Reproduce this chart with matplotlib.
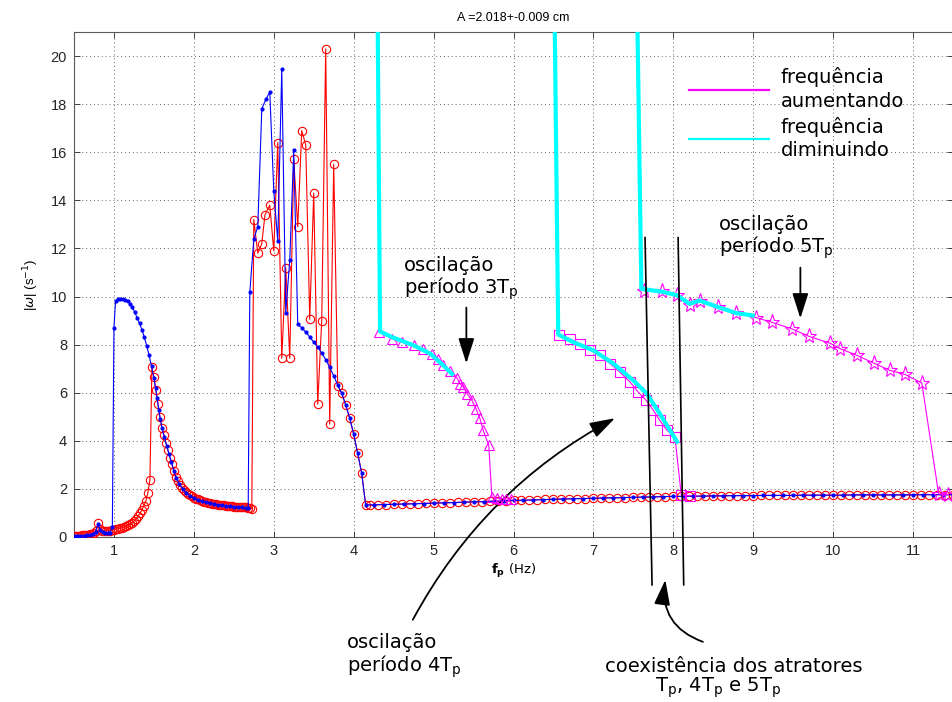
import matplotlib
matplotlib.use('Agg')
import matplotlib.pyplot as plt
from matplotlib.lines import Line2D

# sweep measured with small dots (blue), 0.5 - 4.15 Hz
blue_f = [0.50, 0.54, 0.58, 0.62, 0.66, 0.70, 0.74, 0.77, 0.80, 0.83, 0.86, 0.89, 0.92, 0.95, 0.98,
          1.00, 1.02, 1.05, 1.08, 1.11, 1.14, 1.17, 1.20, 1.23, 1.26, 1.29, 1.32, 1.35, 1.38, 1.41,
          1.44, 1.47, 1.50, 1.52, 1.54, 1.56, 1.58, 1.60, 1.63, 1.66, 1.69, 1.72, 1.75, 1.78, 1.82,
          1.86, 1.90, 1.95, 2.00, 2.05, 2.10, 2.15, 2.20, 2.25, 2.30, 2.35, 2.40, 2.45, 2.50, 2.55,
          2.60, 2.65, 2.68, 2.70, 2.75, 2.80, 2.85, 2.90, 2.95, 3.00, 3.05, 3.10, 3.15, 3.20, 3.25,
          3.30, 3.35, 3.40, 3.45, 3.50, 3.55, 3.60, 3.65, 3.70, 3.75, 3.80, 3.85, 3.90, 3.95, 4.00,
          4.05, 4.10, 4.15]
blue_w = [0.03, 0.04, 0.05, 0.06, 0.08, 0.10, 0.14, 0.22, 0.52, 0.30, 0.20, 0.17, 0.17, 0.18, 0.42,
          8.70, 9.82, 9.90, 9.90, 9.89, 9.86, 9.80, 9.70, 9.55, 9.35, 9.12, 8.88, 8.62, 8.30, 7.95,
          7.55, 7.10, 6.62, 6.20, 5.78, 5.30, 4.90, 4.55, 4.15, 3.80, 3.45, 3.10, 2.75, 2.45, 2.20,
          2.00, 1.85, 1.70, 1.62, 1.55, 1.49, 1.44, 1.40, 1.37, 1.34, 1.31, 1.29, 1.27, 1.25, 1.24,
          1.23, 1.22, 1.22, 10.17, 12.40, 12.90, 17.80, 18.20, 18.50, 14.40, 12.30, 19.45, 9.33, 11.50, 16.10,
          8.85, 8.70, 8.52, 8.32, 8.10, 7.90, 7.65, 7.38, 7.05, 6.70, 6.32, 5.98, 5.50, 4.95, 4.28,
          3.48, 2.65, 1.33]
# blue, period Tp branch above 4.2 Hz
blue_base_f = [4.25, 4.375, 4.5, 4.625, 4.75, 4.875, 5.0, 5.125, 5.25, 5.375, 5.5, 5.625, 5.75, 5.875,
               6.0, 6.125, 6.25, 6.375, 6.5, 6.625, 6.75, 6.875, 7.0, 7.125, 7.25, 7.375, 7.5, 7.625,
               7.75, 7.875, 8.0, 8.125, 8.25, 8.375, 8.5, 8.625, 8.75, 8.875, 9.0, 9.125, 9.25, 9.375,
               9.5, 9.625, 9.75, 9.875, 10.0, 10.125, 10.25, 10.375, 10.5, 10.625, 10.75, 10.875, 11.0,
               11.125, 11.25, 11.375, 11.5]
blue_base_w = [1.34, 1.35, 1.36, 1.37, 1.38, 1.39, 1.41, 1.42, 1.43, 1.45, 1.46, 1.47, 1.49, 1.50,
               1.52, 1.53, 1.54, 1.55, 1.57, 1.58, 1.59, 1.60, 1.61, 1.62, 1.63, 1.64, 1.65, 1.66,
               1.67, 1.68, 1.69, 1.69, 1.70, 1.70, 1.71, 1.71, 1.72, 1.72, 1.72, 1.73, 1.73, 1.73,
               1.73, 1.74, 1.74, 1.74, 1.74, 1.74, 1.75, 1.75, 1.75, 1.75, 1.75, 1.75, 1.75,
               1.76, 1.76, 1.76, 1.76]

# sweep measured with open circles (red), 0.5 - 4.15 Hz
red_f = [0.500, 0.525, 0.550, 0.575, 0.600, 0.625, 0.650, 0.675, 0.700, 0.725, 0.750, 0.775, 0.800,
         0.825, 0.850, 0.875, 0.900, 0.925, 0.950, 0.975, 1.000, 1.025, 1.050, 1.075, 1.100, 1.125,
         1.150, 1.175, 1.200, 1.225, 1.250, 1.275, 1.300, 1.325, 1.350, 1.375, 1.400, 1.425, 1.450,
         1.475, 1.500, 1.525, 1.550, 1.575, 1.600, 1.625, 1.650, 1.675, 1.700, 1.725, 1.750, 1.775,
         1.800, 1.825, 1.850, 1.875, 1.900, 1.925, 1.950, 1.975, 2.000, 2.025, 2.050, 2.075, 2.100,
         2.125, 2.150, 2.175, 2.200, 2.225, 2.250, 2.275, 2.300, 2.325, 2.350, 2.375, 2.400, 2.425,
         2.450, 2.475, 2.500, 2.525, 2.550, 2.575, 2.600, 2.625, 2.650, 2.675, 2.700, 2.725,
         2.75, 2.80, 2.85, 2.89, 2.95, 3.00, 3.05, 3.10, 3.15, 3.20, 3.25, 3.30, 3.35, 3.40, 3.45,
         3.50, 3.55, 3.60, 3.65, 3.70, 3.75, 3.80, 3.85, 3.90, 3.95, 4.00, 4.05, 4.10, 4.15]
red_w = [0.04, 0.05, 0.05, 0.06, 0.07, 0.08, 0.09, 0.10, 0.12, 0.14, 0.17, 0.25, 0.58,
         0.33, 0.27, 0.25, 0.25, 0.26, 0.27, 0.28, 0.30, 0.32, 0.34, 0.36, 0.38, 0.41,
         0.44, 0.48, 0.53, 0.59, 0.66, 0.75, 0.86, 0.99, 1.13, 1.30, 1.50, 1.85, 2.38,
         7.05, 6.65, 6.10, 5.55, 5.00, 4.55, 4.25, 3.92, 3.60, 3.30, 3.02, 2.75, 2.50,
         2.32, 2.15, 2.05, 1.95, 1.87, 1.80, 1.74, 1.69, 1.64, 1.60, 1.56, 1.53, 1.50,
         1.47, 1.45, 1.43, 1.41, 1.39, 1.37, 1.36, 1.34, 1.33, 1.32, 1.31, 1.30, 1.29,
         1.28, 1.27, 1.26, 1.25, 1.25, 1.24, 1.24, 1.23, 1.23, 1.22, 1.21, 1.17,
         13.2, 11.8, 12.2, 13.4, 13.8, 11.9, 16.4, 7.43, 11.2, 7.43, 15.7, 12.9, 16.9, 16.3, 9.05,
         14.3, 5.52, 9.0, 20.3, 4.69, 15.5, 6.30, 5.97, 5.48, 4.94, 4.27, 3.48, 2.66, 1.35]
# red, period Tp branch above 4.2 Hz
red_base_f = [4.2, 4.3, 4.4, 4.5, 4.6, 4.7, 4.8, 4.9, 5.0, 5.1, 5.2, 5.3, 5.4, 5.5, 5.6, 5.7, 5.8,
              5.9, 6.0, 6.1, 6.2, 6.3, 6.4, 6.5, 6.6, 6.7, 6.8, 6.9, 7.0, 7.1, 7.2, 7.3, 7.4, 7.5,
              7.6, 7.7, 7.8, 7.9, 8.0, 8.1, 8.2, 8.3, 8.4, 8.5, 8.6, 8.7, 8.8, 8.9, 9.0, 9.1, 9.2,
              9.3, 9.4, 9.5, 9.6, 9.7, 9.8, 9.9, 10.0, 10.1, 10.2, 10.3, 10.4, 10.5, 10.6, 10.7,
              10.8, 10.9, 11.0, 11.1, 11.2, 11.3, 11.4, 11.5]
red_base_w = [1.33, 1.34, 1.35, 1.36, 1.37, 1.38, 1.39, 1.40, 1.41, 1.42, 1.43, 1.44, 1.45, 1.46,
              1.47, 1.48, 1.49, 1.50, 1.52, 1.53, 1.54, 1.55, 1.56, 1.57, 1.58, 1.59, 1.60, 1.60,
              1.61, 1.62, 1.63, 1.63, 1.64, 1.65, 1.66, 1.66, 1.67, 1.68, 1.69, 1.69, 1.70, 1.70,
              1.70, 1.71, 1.71, 1.72, 1.72, 1.72, 1.72, 1.73, 1.73, 1.73, 1.73, 1.73, 1.74, 1.74,
              1.74, 1.74, 1.74, 1.74, 1.75, 1.75, 1.75, 1.75, 1.75, 1.75, 1.75, 1.75, 1.75, 1.76,
              1.76, 1.76, 1.76, 1.76]

# frequency increasing (magenta): 3Tp, 4Tp and 5Tp branches
up3_f = [4.32, 4.48, 4.60, 4.75, 4.87, 4.98, 5.06, 5.12, 5.21, 5.29, 5.33, 5.37, 5.42, 5.48, 5.53,
         5.58, 5.62, 5.69, 5.73, 5.79, 5.85, 5.91, 5.97]
up3_w = [8.52, 8.24, 8.10, 7.97, 7.83, 7.62, 7.41, 7.14, 6.89, 6.63, 6.38, 6.24, 5.96, 5.68, 5.34,
         4.93, 4.44, 3.82, 1.65, 1.62, 1.60, 1.58, 1.57]
up4_f = [6.57, 6.71, 6.83, 6.96, 7.08, 7.21, 7.33, 7.46, 7.56, 7.66, 7.75, 7.83, 7.92, 8.02, 8.10,
         8.21]
up4_w = [8.41, 8.24, 8.04, 7.76, 7.55, 7.21, 6.86, 6.44, 6.03, 5.68, 5.27, 4.85, 4.44, 4.16, 1.74,
         1.72]
up5_f = [7.63, 7.86, 8.05, 8.21, 8.33, 8.56, 8.79, 9.04, 9.23, 9.48, 9.70, 9.96, 10.09, 10.30,
         10.51, 10.71, 10.90, 11.11, 11.32, 11.44]
up5_w = [10.25, 10.22, 10.08, 9.63, 9.83, 9.56, 9.31, 9.12, 8.93, 8.66, 8.34, 8.06, 7.83, 7.55,
         7.23, 6.93, 6.76, 6.40, 1.79, 1.76]

# frequency decreasing (cyan), coming down from off-scale values
down3_f = [4.29, 4.33, 4.48, 4.75, 4.96, 5.12, 5.25]
down3_w = [26.0, 8.55, 8.31, 7.97, 7.62, 7.14, 6.72]
down4_f = [6.50, 6.56, 6.75, 7.00, 7.25, 7.50, 7.67, 7.83, 8.06]
down4_w = [26.0, 8.42, 8.10, 7.76, 7.21, 6.51, 5.96, 5.13, 3.89]
down5_f = [7.53, 7.60, 7.86, 8.05, 8.20, 8.33, 8.56, 8.79, 9.02]
down5_w = [26.0, 10.32, 10.20, 10.05, 9.70, 9.83, 9.56, 9.31, 9.20]

# coexistence window markers
coex_x1 = [7.646, 7.734]
coex_x2 = [8.06, 8.13]
coex_y = [12.45, -1.99]

xticks = list(range(1, 12))
yticks = list(range(0, 21, 2))

plt.rcParams['font.family'] = ['DejaVu Sans']
fig = plt.figure(figsize=(9.52, 7.02), dpi=100)
ax = fig.add_axes([74 / 952, 165 / 702, 879 / 952, 505 / 702])

ax.plot(red_f + red_base_f, red_w + red_base_w, color='red', marker='o', lw=0.8, ms=6,
        mfc='none', mew=0.8, zorder=3)
ax.plot(blue_f + blue_base_f, blue_w + blue_base_w, color='blue', marker='.', lw=0.8, ms=4,
        zorder=4)

ax.plot(up3_f, up3_w, '-^', color='magenta', lw=0.8, ms=7, mfc='none', mew=0.8, zorder=5)
ax.plot(up4_f, up4_w, '-s', color='magenta', lw=0.8, ms=6.5, mfc='none', mew=0.8, zorder=5)
ax.plot(up5_f, up5_w, '-*', color='magenta', lw=0.8, ms=11, mfc='none', mew=0.8, zorder=5)

for f, w in [(down3_f, down3_w), (down4_f, down4_w), (down5_f, down5_w)]:
    ax.plot(f, w, '-', color='cyan', lw=3, zorder=6, solid_capstyle='butt')

ax.set_xlim(0.5, 11.5)
ax.set_ylim(0, 21)
ax.set_xticks(xticks)
ax.set_yticks(yticks)
ax.grid(True, linestyle=(0, (1, 3)), color='0.4', lw=0.7)
ax.tick_params(direction='in', top=True, right=True, length=4, width=0.6, labelsize=10.5,
               colors='0.15', pad=5)
for lab in ax.get_xticklabels() + ax.get_yticklabels():
    lab.set_family('Liberation Sans')
for sp in ax.spines.values():
    sp.set_color('0.35')
    sp.set_linewidth(0.8)

ax.set_title('A =2.018+-0.009 cm', fontsize=9, family='Liberation Sans', pad=8)
ax.set_xlabel(r'$\mathbf{f_p}$ (Hz)', fontsize=9.5, labelpad=3)
ax.set_ylabel(r'|$\omega$| (s$^{-1}$)', fontsize=9.5, family='Liberation Sans', labelpad=7)

handles = [Line2D([], [], color='magenta', lw=1.6), Line2D([], [], color='cyan', lw=1.6)]
leg = ax.legend(handles, ['frequência\naumentando', 'frequência\ndiminuindo'], loc='upper left',
                bbox_to_anchor=(0.70, 0.93), frameon=False, fontsize=14, handlelength=4.1,
                handletextpad=0.6, labelspacing=0.3, borderpad=0, borderaxespad=0)
for t in leg.get_texts():
    t.set_linespacing(1.3)

txt = dict(fontsize=14, linespacing=1.05, va='top', ha='left', annotation_clip=False)
arrow = dict(arrowstyle='-|>,head_length=1.1,head_width=0.35', color='black', lw=1.3,
             shrinkA=0, shrinkB=0, mutation_scale=14)

ax.annotate('oscilação\nperíodo 3T$_\\mathregular{p}$', xy=(4.63, 11.7), **txt)
ax.annotate('', xy=(5.41, 7.22), xytext=(5.41, 9.54), arrowprops=arrow, annotation_clip=False)

ax.annotate('oscilação\nperíodo 5T$_\\mathregular{p}$', xy=(8.57, 13.4), **txt)
ax.annotate('', xy=(9.59, 9.09), xytext=(9.59, 11.2), arrowprops=arrow, annotation_clip=False)

ax.annotate('oscilação\nperíodo 4T$_\\mathregular{p}$', xy=(3.92, -4.0), **txt)
ax.annotate('', xy=(7.27, 4.94), xytext=(4.74, -3.44), annotation_clip=False,
            arrowprops=dict(arrow, connectionstyle='arc3,rad=-0.15'))

ax.plot(coex_x1, coex_y, color='black', lw=1.2, clip_on=False, zorder=7)
ax.plot(coex_x2, coex_y, color='black', lw=1.2, clip_on=False, zorder=7)
ax.annotate('', xy=(7.90, -1.78), xytext=(8.37, -4.36), annotation_clip=False,
            arrowprops=dict(arrow, connectionstyle='arc3,rad=-0.4'))
ax.text(8.76, -5.6, 'coexistência dos atratores', fontsize=14, ha='center', va='baseline')
ax.text(8.56, -6.43, 'T$_\\mathregular{p}$, 4T$_\\mathregular{p}$ e 5T$_\\mathregular{p}$',
        fontsize=14, ha='center', va='baseline')

fig.savefig('out.png', dpi=100)
